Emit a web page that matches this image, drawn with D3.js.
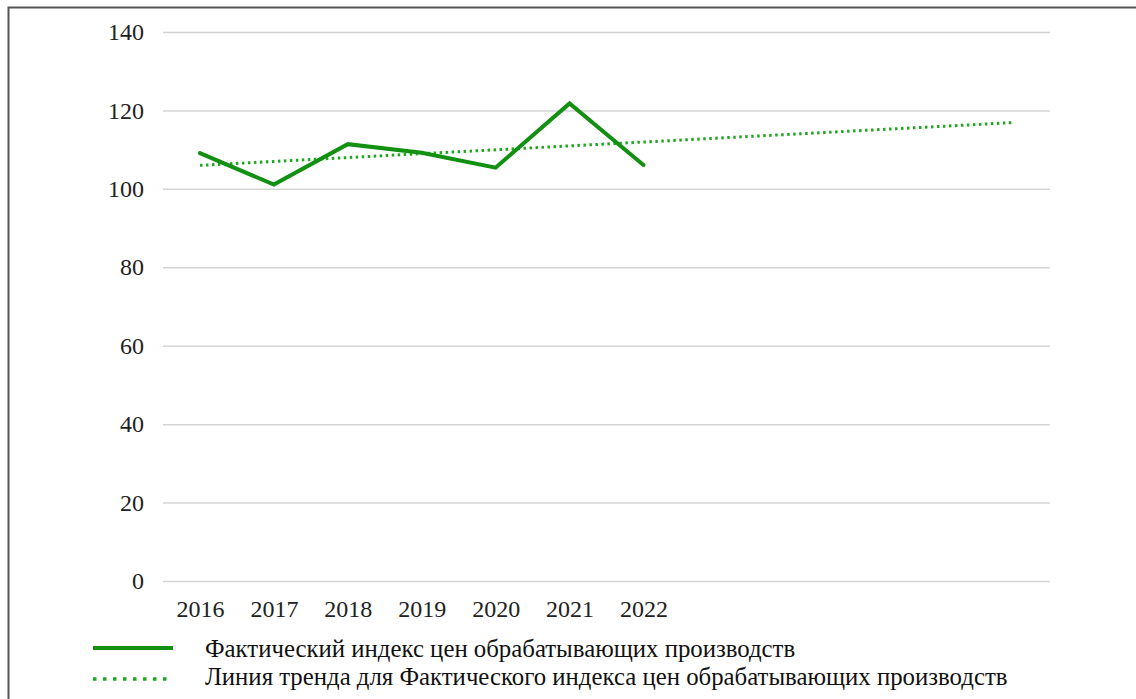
<!DOCTYPE html>
<html>
<head>
<meta charset="utf-8">
<script src="https://cdn.jsdelivr.net/npm/d3@7"></script>
<style>
  body { margin: 0; background: #fff; }
  svg { display: block; font-family: "Liberation Serif", "DejaVu Serif", serif; }
</style>
</head>
<body>
<div id="chart"></div>
<script>
// data
var years = ["2016", "2017", "2018", "2019", "2020", "2021", "2022"];
var slots = ["2016", "2017", "2018", "2019", "2020", "2021", "2022",
             "2023", "2024", "2025", "2026", "2027"];
var actual = [109.1, 101.1, 111.4, 109.2, 105.4, 121.8, 106.1];
var trendYears = ["2016", "2027"];
var trendValues = [106.0, 116.9];
var yTicks = [0, 20, 40, 60, 80, 100, 120, 140];
var legendLabels = [
  "Фактический индекс цен обрабатывающих производств",
  "Линия тренда для Фактического индекса цен обрабатывающих производств"
];

var W = 1136, H = 699;
var margin = {top: 32, right: 86, bottom: 118, left: 163},
    width = W - margin.left - margin.right,
    height = H - margin.top - margin.bottom;

var svg = d3.select("#chart").append("svg")
  .attr("width", W)
  .attr("height", H);

// frame (only top and left show in the crop)
svg.append("path")
  .attr("d", "M8.5," + H + "V7.5H" + W)
  .attr("fill", "none")
  .attr("stroke", "#555")
  .attr("stroke-width", 2);

var g = svg.append("g")
  .attr("transform", "translate(" + margin.left + "," + margin.top + ")");

var x = d3.scalePoint().domain(slots).range([0, width]).padding(0.5);
var y = d3.scaleLinear().domain([0, 140]).range([height, 0]);

// grid lines + y labels
var yAxis = g.append("g")
  .call(d3.axisLeft(y).tickValues(yTicks).tickSize(-width).tickFormat(d3.format("d")));
yAxis.select(".domain").remove();
yAxis.selectAll(".tick line").attr("stroke", "#d4d4d4").attr("stroke-width", 1.5);
yAxis.selectAll(".tick text")
  .attr("x", -19)
  .attr("font-size", 24)
  .attr("fill", "#222")
  .style("font-family", "Liberation Serif, serif");

// x labels
var xAxis = g.append("g")
  .attr("transform", "translate(0," + height + ")")
  .call(d3.axisBottom(x).tickValues(years).tickSize(0));
xAxis.select(".domain").remove();
xAxis.selectAll(".tick text")
  .attr("y", 36)
  .attr("dy", 0)
  .attr("font-size", 24)
  .attr("fill", "#222")
  .style("font-family", "Liberation Serif, serif");

// trend line (dotted)
var trendData = trendYears.map(function(d, i) { return [d, trendValues[i]]; });
g.append("path")
  .datum(trendData)
  .attr("fill", "none")
  .attr("stroke", "#1fa81f")
  .attr("stroke-width", 3)
  .attr("stroke-dasharray", "2.5,3.5")
  .attr("d", d3.line().x(function(d) { return x(d[0]); }).y(function(d) { return y(d[1]); }));

// actual line
var actualData = years.map(function(d, i) { return [d, actual[i]]; });
g.append("path")
  .datum(actualData)
  .attr("fill", "none")
  .attr("stroke", "#129012")
  .attr("stroke-width", 4)
  .attr("stroke-linejoin", "miter")
  .attr("stroke-linecap", "round")
  .attr("d", d3.line().x(function(d) { return x(d[0]); }).y(function(d) { return y(d[1]); }));

// legend
var legend = svg.append("g").attr("transform", "translate(93,0)");
legend.append("line")
  .attr("x1", 0).attr("x2", 80).attr("y1", 648).attr("y2", 648)
  .attr("stroke", "#129012").attr("stroke-width", 4);
legend.append("line")
  .attr("x1", 0).attr("x2", 80).attr("y1", 679).attr("y2", 679)
  .attr("stroke", "#1fa81f").attr("stroke-width", 3.5)
  .attr("stroke-dasharray", "3.5,6.5");
legend.selectAll("text.lab")
  .data(legendLabels)
  .enter().append("text")
  .attr("class", "lab")
  .attr("x", 112)
  .attr("y", function(d, i) { return 657 + i * 28; })
  .attr("font-size", 24.8)
  .attr("fill", "#111")
  .text(function(d) { return d; });
</script>
</body>
</html>
